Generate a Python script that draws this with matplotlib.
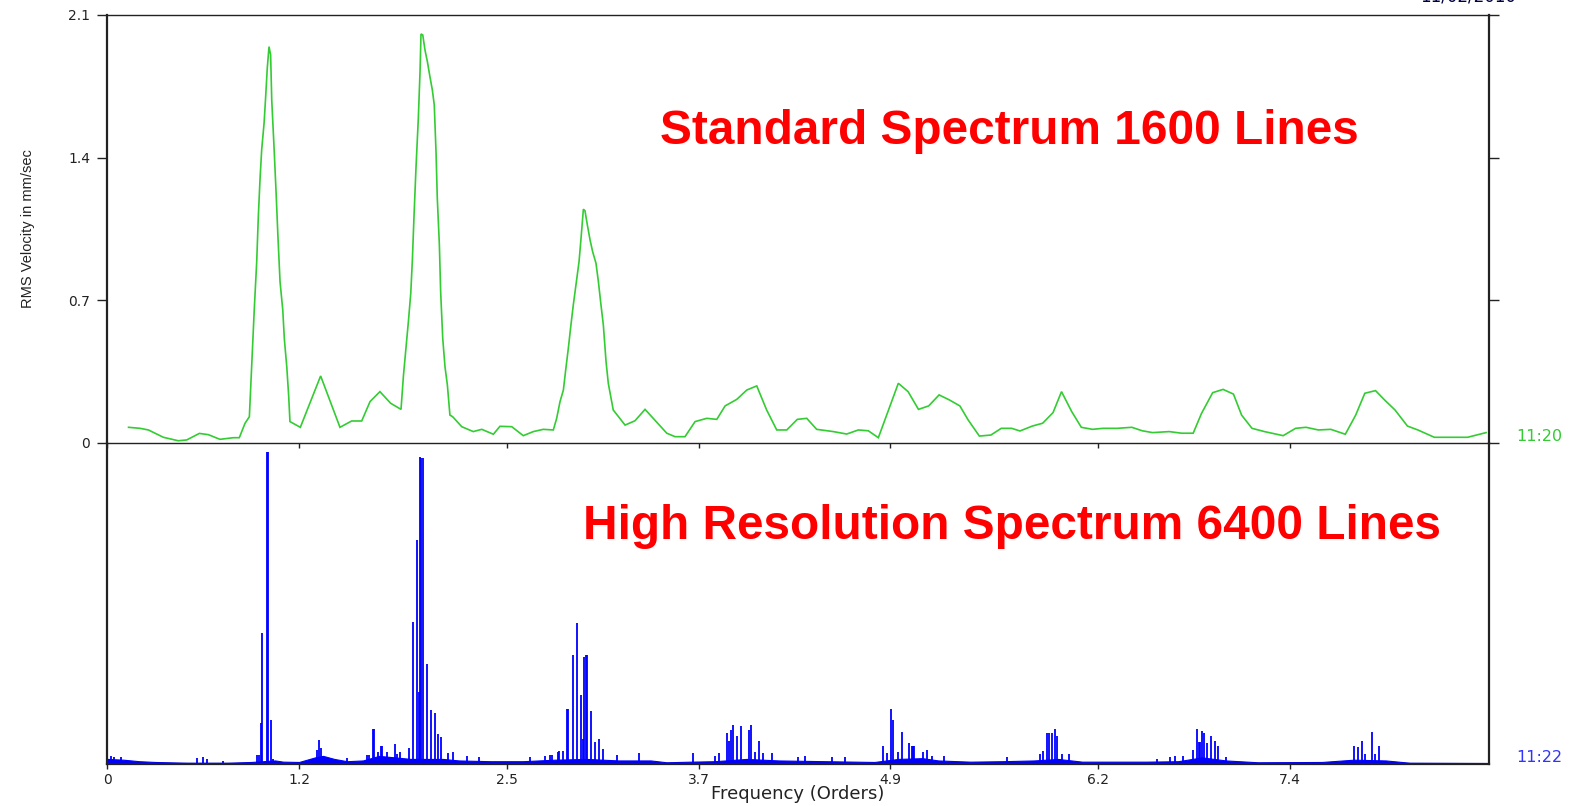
import matplotlib
matplotlib.use("Agg")
import matplotlib.pyplot as plt

# ---------------- data ----------------
# Standard spectrum (1600 lines): frequency in orders, RMS velocity mm/sec
std_orders = [0.133, 0.205, 0.257, 0.351, 0.444, 0.497, 0.576, 0.632, 0.705, 0.789, 0.826,
              0.862, 0.889, 0.904, 0.920, 0.935, 0.945, 0.956, 0.966, 0.981, 0.991, 1.001,
              1.012, 1.022, 1.029, 1.043, 1.056, 1.068, 1.081, 1.098, 1.108, 1.123, 1.135,
              1.143, 1.208, 1.335, 1.456, 1.529, 1.592, 1.644, 1.706, 1.773, 1.838, 1.853,
              1.869, 1.884, 1.899, 1.909, 1.920, 1.932, 1.946, 1.957, 1.963, 1.974, 1.988,
              2.003, 2.019, 2.034, 2.046, 2.057, 2.065, 2.078, 2.086, 2.099, 2.113, 2.128,
              2.144, 2.161, 2.218, 2.290, 2.343, 2.416, 2.457, 2.531, 2.603, 2.666, 2.728,
              2.791, 2.812, 2.833, 2.854, 2.869, 2.885, 2.900, 2.916, 2.933, 2.952, 2.964,
              2.979, 2.989, 3.004, 3.021, 3.037, 3.058, 3.073, 3.088, 3.104, 3.121, 3.135,
              3.166, 3.240, 3.302, 3.365, 3.501, 3.553, 3.615, 3.678, 3.751, 3.814, 3.866,
              3.939, 4.002, 4.064, 4.126, 4.189, 4.252, 4.318, 4.377, 4.439, 4.543, 4.627,
              4.700, 4.762, 4.825, 4.950, 5.011, 5.076, 5.140, 5.205, 5.270, 5.335, 5.387,
              5.457, 5.529, 5.594, 5.659, 5.711, 5.788, 5.853, 5.918, 5.971, 6.035, 6.095,
              6.165, 6.230, 6.320, 6.411, 6.476, 6.541, 6.645, 6.723, 6.795, 6.847, 6.917,
              6.982, 7.047, 7.098, 7.163, 7.241, 7.358, 7.436, 7.501, 7.578, 7.656, 7.747,
              7.812, 7.869, 7.936, 7.993, 8.058, 8.136, 8.201, 8.304, 8.512, 8.628]
std_values = [0.077, 0.072, 0.064, 0.028, 0.011, 0.015, 0.047, 0.041, 0.018, 0.026, 0.026,
              0.097, 0.129, 0.391, 0.661, 0.890, 1.110, 1.299, 1.438, 1.569, 1.699, 1.839,
              1.945, 1.904, 1.683, 1.457, 1.233, 1.009, 0.791, 0.653, 0.509, 0.375, 0.231,
              0.105, 0.077, 0.329, 0.077, 0.108, 0.108, 0.203, 0.252, 0.195, 0.165, 0.329,
              0.465, 0.595, 0.735, 0.898, 1.127, 1.356, 1.588, 1.822, 2.007, 2.002, 1.928,
              1.871, 1.797, 1.732, 1.659, 1.429, 1.201, 0.972, 0.742, 0.514, 0.375, 0.285,
              0.137, 0.129, 0.080, 0.056, 0.067, 0.043, 0.082, 0.080, 0.036, 0.056, 0.067,
              0.064, 0.121, 0.203, 0.260, 0.362, 0.465, 0.571, 0.677, 0.779, 0.890, 1.000,
              1.147, 1.140, 1.070, 0.996, 0.939, 0.882, 0.792, 0.686, 0.579, 0.399, 0.293,
              0.162, 0.088, 0.109, 0.165, 0.048, 0.031, 0.031, 0.105, 0.121, 0.116, 0.182,
              0.214, 0.260, 0.280, 0.162, 0.064, 0.064, 0.116, 0.121, 0.067, 0.056, 0.044,
              0.064, 0.060, 0.026, 0.293, 0.252, 0.165, 0.182, 0.236, 0.211, 0.182, 0.113,
              0.034, 0.039, 0.072, 0.072, 0.059, 0.083, 0.097, 0.149, 0.252, 0.154, 0.077,
              0.067, 0.072, 0.072, 0.077, 0.060, 0.051, 0.056, 0.048, 0.048, 0.145, 0.247,
              0.263, 0.240, 0.137, 0.072, 0.056, 0.036, 0.072, 0.077, 0.064, 0.067, 0.043,
              0.137, 0.244, 0.257, 0.211, 0.162, 0.083, 0.064, 0.028, 0.028, 0.051]

# High resolution spectrum (6400 lines): discrete lines
hr_orders = [0.021, 0.045, 0.084, 0.120, 0.559, 0.597, 0.622, 0.726, 0.935, 0.951, 0.960,
             0.971, 0.998, 1.004, 1.024, 1.040, 1.310, 1.325, 1.340, 1.503, 1.623, 1.640,
             1.660, 1.670, 1.692, 1.712, 1.722, 1.752, 1.800, 1.810, 1.832, 1.888, 1.910,
             1.936, 1.951, 1.958, 1.966, 1.975, 2.003, 2.024, 2.051, 2.072, 2.086, 2.134,
             2.165, 2.249, 2.328, 2.645, 2.738, 2.770, 2.781, 2.822, 2.827, 2.850, 2.874,
             2.882, 2.912, 2.941, 2.962, 2.975, 2.985, 2.993, 3.000, 3.027, 3.052, 3.079,
             3.104, 3.191, 3.329, 3.667, 3.803, 3.830, 3.876, 3.891, 3.905, 3.917, 3.943,
             3.966, 4.016, 4.028, 4.053, 4.078, 4.105, 4.162, 4.325, 4.366, 4.534, 4.616,
             4.856, 4.881, 4.904, 4.919, 4.946, 4.971, 5.018, 5.036, 5.043, 5.050, 5.106,
             5.131, 5.161, 5.233, 5.630, 5.837, 5.858, 5.879, 5.895, 5.910, 5.933, 5.945,
             5.973, 6.020, 6.568, 6.651, 6.682, 6.734, 6.793, 6.822, 6.830, 6.838, 6.850,
             6.863, 6.884, 6.909, 6.932, 6.953, 7.001, 7.802, 7.829, 7.850, 7.870, 7.913,
             7.935, 7.960]
hr_values = [0.049, 0.040, 0.040, 0.025, 0.034, 0.040, 0.027, 0.016, 0.056, 0.056, 0.264,
             0.854, 2.040, 2.040, 0.285, 0.030, 0.090, 0.154, 0.100, 0.034, 0.056, 0.056,
             0.224, 0.224, 0.077, 0.115, 0.115, 0.074, 0.128, 0.060, 0.074, 0.100, 0.924,
             1.467, 0.471, 2.010, 2.000, 2.000, 0.653, 0.351, 0.329, 0.194, 0.176, 0.067,
             0.074, 0.050, 0.040, 0.040, 0.050, 0.056, 0.056, 0.074, 0.080, 0.083, 0.360,
             0.360, 0.712, 0.920, 0.450, 0.160, 0.697, 0.712, 0.712, 0.345, 0.143, 0.160,
             0.098, 0.056, 0.068, 0.072, 0.050, 0.067, 0.198, 0.150, 0.220, 0.253, 0.180,
             0.246, 0.220, 0.253, 0.077, 0.150, 0.067, 0.067, 0.044, 0.050, 0.040, 0.040,
             0.115, 0.067, 0.360, 0.285, 0.077, 0.207, 0.137, 0.115, 0.115, 0.115, 0.077,
             0.090, 0.050, 0.050, 0.040, 0.060, 0.084, 0.202, 0.202, 0.202, 0.229, 0.180,
             0.060, 0.060, 0.030, 0.040, 0.050, 0.050, 0.090, 0.229, 0.140, 0.140, 0.216,
             0.202, 0.137, 0.180, 0.148, 0.115, 0.045, 0.115, 0.110, 0.148, 0.060, 0.207,
             0.060, 0.115]

# noise floor of the high resolution spectrum
floor_orders = [0.0, 0.1, 0.2, 0.3, 0.5, 0.75, 0.9, 1.05, 1.1, 1.2, 1.3, 1.35, 1.42, 1.5,
                1.6, 1.7, 1.8, 1.9, 2.1, 2.2, 2.4, 2.6, 2.8, 3.0, 3.2, 3.4, 3.5, 3.65, 3.8,
                4.0, 4.2, 4.5, 4.8, 4.95, 5.1, 5.2, 5.4, 5.6, 5.8, 5.95, 6.1, 6.5, 6.7,
                6.85, 7.0, 7.2, 7.6, 7.8, 8.0, 8.15, 8.64]
floor_values = [0.030, 0.025, 0.015, 0.010, 0.005, 0.005, 0.010, 0.020, 0.012, 0.010,
                0.040, 0.050, 0.030, 0.015, 0.020, 0.050, 0.040, 0.030, 0.030, 0.020,
                0.015, 0.015, 0.025, 0.030, 0.020, 0.020, 0.008, 0.012, 0.015, 0.030,
                0.020, 0.015, 0.010, 0.030, 0.035, 0.020, 0.012, 0.015, 0.020, 0.030,
                0.012, 0.012, 0.015, 0.040, 0.020, 0.008, 0.010, 0.025, 0.020, 0.005,
                0.003]

y_ticks = [0, 0.7, 1.4, 2.1]
y_tick_labels = ["0", "0.7", "1.4", "2.1"]
x_ticks = [0, 1.2, 2.5, 3.7, 4.9, 6.2, 7.4]
x_tick_labels = ["0", "1.2", "2.5", "3.7", "4.9", "6.2", "7.4"]

# ---------------- layout ----------------
W, H = 1580, 806
fig = plt.figure(figsize=(W / 100, H / 100), dpi=100)
plt.rcParams['font.family'] = ['DejaVu Sans']

def fx(px):
    return px / W

def fy(py):
    return 1 - py / H

left_px, right_px = 107.3, 1489.3
top1, bot1 = 15.0, 443.0
top2, bot2 = 443.0, 763.5

GREEN = '#33cc33'
BLUE = '#0000ff'
AXC = '#222222'
XMAX = 8.648

ax2 = fig.add_axes([fx(left_px), fy(bot2), fx(right_px - left_px), (bot2 - top2) / H])
ax1 = fig.add_axes([fx(left_px), fy(bot1), fx(right_px - left_px), (bot1 - top1) / H])
ax2.patch.set_visible(False)
ax1.patch.set_visible(False)

# top panel
ax1.plot(std_orders, std_values, color=GREEN, lw=1.2, solid_joinstyle='miter')
ax1.set_xlim(0, XMAX)
ax1.set_ylim(0, 2.1)
ax1.set_yticks(y_ticks)
ax1.set_yticklabels(y_tick_labels)
ax1.set_xticks(x_ticks)
ax1.tick_params(axis='y', which='both', left=True, right=True, direction='out',
                length=7.5, width=1.0, color=AXC, labelsize=10, pad=5, labelcolor='#222222')
ax1.tick_params(axis='x', bottom=True, top=False, direction='out', length=3.6,
                width=1.0, color=AXC, labelbottom=False)
for s in ['left', 'right']:
    ax1.spines[s].set_linewidth(1.6)
    ax1.spines[s].set_color(AXC)
for s in ['top', 'bottom']:
    ax1.spines[s].set_linewidth(1.0)
    ax1.spines[s].set_color(AXC)

# bottom panel
ax2.fill_between(floor_orders, 0, floor_values, color=BLUE, lw=0.8)
ax2.vlines(hr_orders, 0, hr_values, color=BLUE, lw=1.3)
ax2.set_xlim(0, XMAX)
ax2.set_ylim(0, 2.1)
ax2.set_yticks([])
ax2.set_xticks(x_ticks)
ax2.set_xticklabels(x_tick_labels)
ax2.tick_params(axis='x', direction='out', length=3.6, width=1.0, color=AXC,
                labelsize=10, pad=3, labelcolor='#222222')
ax2.spines['top'].set_visible(False)
for s in ['left', 'right', 'bottom']:
    ax2.spines[s].set_linewidth(1.6)
    ax2.spines[s].set_color(AXC)

# texts
fig.text(fx(28), fy(229), 'RMS Velocity in mm/sec', rotation=90, ha='center', va='center',
         fontsize=10.5, family=['Liberation Sans Narrow', 'Liberation Sans', 'DejaVu Sans'],
         color='#222222')
fig.text(fx(798), fy(794), 'Frequency (Orders)', ha='center', va='center', fontsize=13,
         color='#222222')
fig.text(fx(1516), fy(437), '11:20', ha='left', va='center', fontsize=11.5, color=GREEN)
fig.text(fx(1516), fy(757), '11:22', ha='left', va='center', fontsize=11.5, color='#3333ff')
fig.text(fx(1420), fy(1.5), '11/02/2010', ha='left', va='baseline', fontsize=12,
         color='#000040')

fig.text(fx(660), fy(144), 'Standard Spectrum 1600 Lines', ha='left', va='baseline',
         fontsize=34.4, fontweight='bold', color='red',
         family=['Liberation Sans', 'DejaVu Sans'])
fig.text(fx(583), fy(539), 'High Resolution Spectrum 6400 Lines', ha='left', va='baseline',
         fontsize=34.4, fontweight='bold', color='red',
         family=['Liberation Sans', 'DejaVu Sans'])

fig.savefig('out.png', dpi=100)
